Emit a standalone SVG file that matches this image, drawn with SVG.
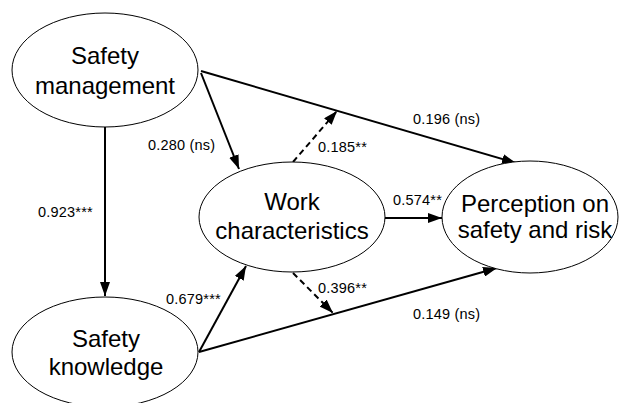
<svg xmlns="http://www.w3.org/2000/svg" width="619" height="403" viewBox="0 0 619 403">
  <style>
    .node ellipse { fill: #ffffff; stroke: #000000; stroke-width: 1; }
    .node text { font-family: "Liberation Sans", Arial, sans-serif; font-size: 24px; fill: #000000; text-anchor: middle; }
    .edge { stroke: #000000; stroke-width: 2; fill: none; }
    .dash { stroke-dasharray: 6 4; }
    .lbl { font-family: "Liberation Sans", Arial, sans-serif; font-size: 14.5px; fill: #000000; letter-spacing: 0.2px; }
  </style>
  <defs>
    <marker id="arrow" viewBox="0 0 14 10" refX="14" refY="5" markerWidth="14" markerHeight="10" markerUnits="userSpaceOnUse" orient="auto">
      <path d="M0,0 L14,5 L0,10 Z" fill="#000000"/>
    </marker>
  </defs>
  <rect width="619" height="403" fill="#ffffff"/>

  <g id="connectors">
    <!-- Safety management -> Work characteristics -->
    <line class="edge" x1="201" y1="73" x2="239" y2="169" marker-end="url(#arrow)"/>
    <!-- Safety management -> Perception -->
    <line class="edge" x1="201" y1="71" x2="516" y2="163" marker-end="url(#arrow)"/>
    <!-- Safety management -> Safety knowledge -->
    <line class="edge" x1="105" y1="127" x2="105" y2="296" marker-end="url(#arrow)"/>
    <!-- Safety knowledge -> Work characteristics -->
    <line class="edge" x1="199" y1="352" x2="246" y2="266" marker-end="url(#arrow)"/>
    <!-- Safety knowledge -> Perception -->
    <line class="edge" x1="199" y1="352" x2="497" y2="268" marker-end="url(#arrow)"/>
    <!-- Work characteristics -> Perception -->
    <line class="edge" x1="385" y1="218" x2="442" y2="218" marker-end="url(#arrow)"/>
    <!-- moderation paths (dashed) -->
    <line class="edge dash" x1="293" y1="162" x2="337" y2="111" marker-end="url(#arrow)"/>
    <line class="edge dash" x1="293" y1="273" x2="333" y2="313" marker-end="url(#arrow)"/>

    <text class="lbl" x="148" y="150">0.280 (ns)</text>
    <text class="lbl" x="413" y="124">0.196 (ns)</text>
    <text class="lbl" x="318" y="152">0.185**</text>
    <text class="lbl" x="393" y="205">0.574**</text>
    <text class="lbl" x="38" y="217">0.923***</text>
    <text class="lbl" x="166" y="304">0.679***</text>
    <text class="lbl" x="318" y="293">0.396**</text>
    <text class="lbl" x="413" y="319">0.149 (ns)</text>
  </g>

  <g id="safety-management" class="node">
    <ellipse cx="105" cy="70" rx="93" ry="57"/>
    <text x="105" y="64">Safety</text>
    <text x="105" y="94">management</text>
  </g>

  <g id="safety-knowledge" class="node">
    <ellipse cx="105" cy="352" rx="93" ry="55"/>
    <text x="106" y="347">Safety</text>
    <text x="106" y="375">knowledge</text>
  </g>

  <g id="work-characteristics" class="node">
    <ellipse cx="292" cy="217" rx="93" ry="55"/>
    <text x="292" y="210">Work</text>
    <text x="292" y="239">characteristics</text>
  </g>

  <g id="perception" class="node">
    <ellipse cx="530" cy="217" rx="88" ry="56"/>
    <text x="535" y="212">Perception on</text>
    <text x="535" y="238">safety and risk</text>
  </g>
</svg>
